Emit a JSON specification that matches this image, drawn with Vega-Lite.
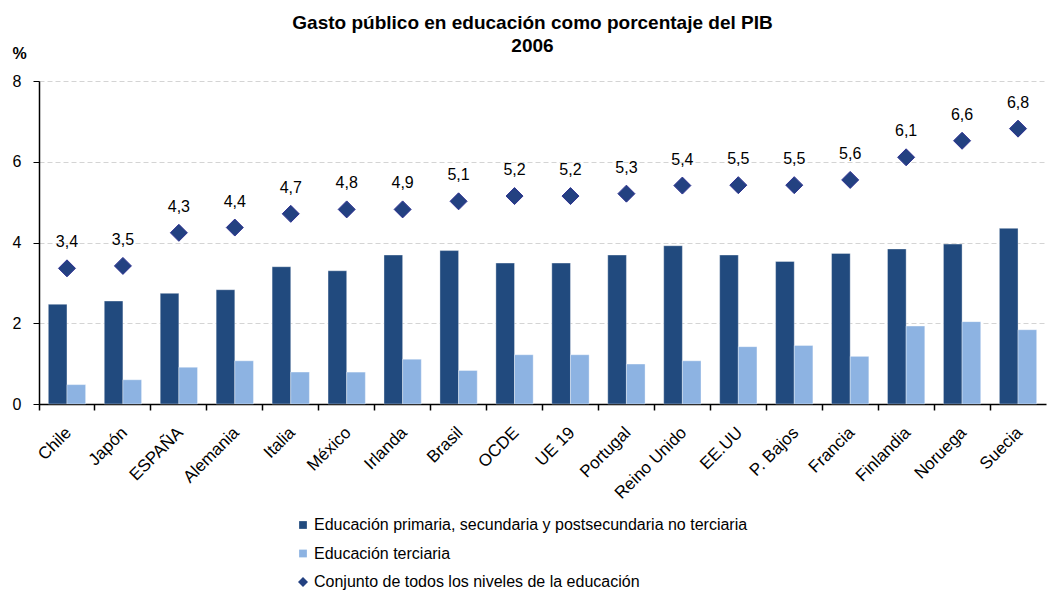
{
  "$schema": "https://vega.github.io/schema/vega-lite/v6.json",
  "width": 1007,
  "height": 323,
  "autosize": {"type": "none"},
  "padding": {"left": 39, "top": 81, "right": 2, "bottom": 190},
  "background": "white",
  "title": {
    "text": ["Gasto público en educación  como porcentaje  del PIB", "2006"],
    "anchor": "middle",
    "frame": "group",
    "font": "Liberation Sans",
    "fontSize": 19,
    "fontWeight": "bold",
    "color": "black",
    "lineHeight": 23,
    "dx": -10,
    "offset": -11
  },
  "config": {
    "view": {"stroke": null},
    "font": "Liberation Sans"
  },
  "data": {
    "values": [
      {"pais": "Chile", "serie": "Educación primaria, secundaria y postsecundaria no terciaria", "valor": 2.47, "etiqueta": ""},
      {"pais": "Chile", "serie": "Educación terciaria", "valor": 0.48, "etiqueta": ""},
      {"pais": "Chile", "serie": "Conjunto de todos los niveles de la educación", "valor": 3.36, "etiqueta": "3,4"},
      {"pais": "Japón", "serie": "Educación primaria, secundaria y postsecundaria no terciaria", "valor": 2.55, "etiqueta": ""},
      {"pais": "Japón", "serie": "Educación terciaria", "valor": 0.6, "etiqueta": ""},
      {"pais": "Japón", "serie": "Conjunto de todos los niveles de la educación", "valor": 3.42, "etiqueta": "3,5"},
      {"pais": "ESPAÑA", "serie": "Educación primaria, secundaria y postsecundaria no terciaria", "valor": 2.74, "etiqueta": ""},
      {"pais": "ESPAÑA", "serie": "Educación terciaria", "valor": 0.91, "etiqueta": ""},
      {"pais": "ESPAÑA", "serie": "Conjunto de todos los niveles de la educación", "valor": 4.24, "etiqueta": "4,3"},
      {"pais": "Alemania", "serie": "Educación primaria, secundaria y postsecundaria no terciaria", "valor": 2.83, "etiqueta": ""},
      {"pais": "Alemania", "serie": "Educación terciaria", "valor": 1.07, "etiqueta": ""},
      {"pais": "Alemania", "serie": "Conjunto de todos los niveles de la educación", "valor": 4.37, "etiqueta": "4,4"},
      {"pais": "Italia", "serie": "Educación primaria, secundaria y postsecundaria no terciaria", "valor": 3.4, "etiqueta": ""},
      {"pais": "Italia", "serie": "Educación terciaria", "valor": 0.79, "etiqueta": ""},
      {"pais": "Italia", "serie": "Conjunto de todos los niveles de la educación", "valor": 4.71, "etiqueta": "4,7"},
      {"pais": "México", "serie": "Educación primaria, secundaria y postsecundaria no terciaria", "valor": 3.3, "etiqueta": ""},
      {"pais": "México", "serie": "Educación terciaria", "valor": 0.79, "etiqueta": ""},
      {"pais": "México", "serie": "Conjunto de todos los niveles de la educación", "valor": 4.82, "etiqueta": "4,8"},
      {"pais": "Irlanda", "serie": "Educación primaria, secundaria y postsecundaria no terciaria", "valor": 3.69, "etiqueta": ""},
      {"pais": "Irlanda", "serie": "Educación terciaria", "valor": 1.11, "etiqueta": ""},
      {"pais": "Irlanda", "serie": "Conjunto de todos los niveles de la educación", "valor": 4.82, "etiqueta": "4,9"},
      {"pais": "Brasil", "serie": "Educación primaria, secundaria y postsecundaria no terciaria", "valor": 3.8, "etiqueta": ""},
      {"pais": "Brasil", "serie": "Educación terciaria", "valor": 0.83, "etiqueta": ""},
      {"pais": "Brasil", "serie": "Conjunto de todos los niveles de la educación", "valor": 5.02, "etiqueta": "5,1"},
      {"pais": "OCDE", "serie": "Educación primaria, secundaria y postsecundaria no terciaria", "valor": 3.49, "etiqueta": ""},
      {"pais": "OCDE", "serie": "Educación terciaria", "valor": 1.22, "etiqueta": ""},
      {"pais": "OCDE", "serie": "Conjunto de todos los niveles de la educación", "valor": 5.15, "etiqueta": "5,2"},
      {"pais": "UE 19", "serie": "Educación primaria, secundaria y postsecundaria no terciaria", "valor": 3.49, "etiqueta": ""},
      {"pais": "UE 19", "serie": "Educación terciaria", "valor": 1.22, "etiqueta": ""},
      {"pais": "UE 19", "serie": "Conjunto de todos los niveles de la educación", "valor": 5.15, "etiqueta": "5,2"},
      {"pais": "Portugal", "serie": "Educación primaria, secundaria y postsecundaria no terciaria", "valor": 3.69, "etiqueta": ""},
      {"pais": "Portugal", "serie": "Educación terciaria", "valor": 0.99, "etiqueta": ""},
      {"pais": "Portugal", "serie": "Conjunto de todos los niveles de la educación", "valor": 5.21, "etiqueta": "5,3"},
      {"pais": "Reino Unido", "serie": "Educación primaria, secundaria y postsecundaria no terciaria", "valor": 3.92, "etiqueta": ""},
      {"pais": "Reino Unido", "serie": "Educación terciaria", "valor": 1.07, "etiqueta": ""},
      {"pais": "Reino Unido", "serie": "Conjunto de todos los niveles de la educación", "valor": 5.41, "etiqueta": "5,4"},
      {"pais": "EE.UU", "serie": "Educación primaria, secundaria y postsecundaria no terciaria", "valor": 3.69, "etiqueta": ""},
      {"pais": "EE.UU", "serie": "Educación terciaria", "valor": 1.42, "etiqueta": ""},
      {"pais": "EE.UU", "serie": "Conjunto de todos los niveles de la educación", "valor": 5.42, "etiqueta": "5,5"},
      {"pais": "P. Bajos", "serie": "Educación primaria, secundaria y postsecundaria no terciaria", "valor": 3.53, "etiqueta": ""},
      {"pais": "P. Bajos", "serie": "Educación terciaria", "valor": 1.45, "etiqueta": ""},
      {"pais": "P. Bajos", "serie": "Conjunto de todos los niveles de la educación", "valor": 5.42, "etiqueta": "5,5"},
      {"pais": "Francia", "serie": "Educación primaria, secundaria y postsecundaria no terciaria", "valor": 3.73, "etiqueta": ""},
      {"pais": "Francia", "serie": "Educación terciaria", "valor": 1.18, "etiqueta": ""},
      {"pais": "Francia", "serie": "Conjunto de todos los niveles de la educación", "valor": 5.55, "etiqueta": "5,6"},
      {"pais": "Finlandia", "serie": "Educación primaria, secundaria y postsecundaria no terciaria", "valor": 3.84, "etiqueta": ""},
      {"pais": "Finlandia", "serie": "Educación terciaria", "valor": 1.93, "etiqueta": ""},
      {"pais": "Finlandia", "serie": "Conjunto de todos los niveles de la educación", "valor": 6.11, "etiqueta": "6,1"},
      {"pais": "Noruega", "serie": "Educación primaria, secundaria y postsecundaria no terciaria", "valor": 3.96, "etiqueta": ""},
      {"pais": "Noruega", "serie": "Educación terciaria", "valor": 2.04, "etiqueta": ""},
      {"pais": "Noruega", "serie": "Conjunto de todos los niveles de la educación", "valor": 6.52, "etiqueta": "6,6"},
      {"pais": "Suecia", "serie": "Educación primaria, secundaria y postsecundaria no terciaria", "valor": 4.35, "etiqueta": ""},
      {"pais": "Suecia", "serie": "Educación terciaria", "valor": 1.84, "etiqueta": ""},
      {"pais": "Suecia", "serie": "Conjunto de todos los niveles de la educación", "valor": 6.82, "etiqueta": "6,8"}
    ]
  },
  "resolve": {"axis": {"x": "independent"}},
  "layer": [
    {
      "transform": [{"filter": "datum.serie != 'Conjunto de todos los niveles de la educación'"}],
      "mark": {"type": "bar", "stroke": "white", "strokeWidth": 0.6, "strokeOpacity": 0.6},
      "encoding": {
        "x": {
          "field": "pais", "type": "nominal", "sort": null,
          "scale": {"paddingInner": 0, "paddingOuter": 0},
          "axis": {
            "orient": "bottom", "title": null, "labelAngle": -45, "labelAlign": "right",
            "labelBaseline": "top", "ticks": false, "domainColor": "black", "domainWidth": 1.5,
            "labelFontSize": 17, "labelColor": "black", "labelPadding": 20, "labelOffset": -4, "grid": false
          }
        },
        "xOffset": {
          "field": "serie", "type": "nominal",
          "scale": {
            "domain": ["Educación primaria, secundaria y postsecundaria no terciaria", "Educación terciaria"],
            "paddingInner": 0, "paddingOuter": 0.5
          }
        },
        "y": {
          "field": "valor", "type": "quantitative",
          "scale": {"domain": [0, 8], "nice": false},
          "axis": {
            "values": [0, 2, 4, 6, 8], "title": "%", "titleAngle": 0, "titleX": -27, "titleY": -23,
            "titleAlign": "left", "titleBaseline": "alphabetic", "titleFontSize": 16, "titleFontWeight": "bold",
            "titleColor": "black", "labelFontSize": 16, "labelColor": "black", "labelPadding": 12,
            "tickSize": 6, "tickColor": "black", "domainColor": "black", "domainWidth": 1.5,
            "grid": true, "gridColor": "#D4D4D4", "gridDash": [5, 3], "gridWidth": 1
          }
        },
        "color": {
          "field": "serie", "type": "nominal",
          "scale": {
            "domain": ["Educación primaria, secundaria y postsecundaria no terciaria", "Educación terciaria", "Conjunto de todos los niveles de la educación"],
            "range": ["#214A7E", "#8DB3E2", "#234181"]
          },
          "legend": {
            "orient": "none", "legendX": 256, "legendY": 436, "title": null, "direction": "vertical",
            "labelFontSize": 16, "labelColor": "black", "labelOffset": 3, "rowPadding": 12.5, "labelLimit": 800,
            "symbolStrokeWidth": 0, "symbolOpacity": 1,
            "symbolType": {"expr": "datum.value == 'Conjunto de todos los niveles de la educación' ? 'diamond' : 'square'"},
            "symbolSize": {"expr": "datum.value == 'Conjunto de todos los niveles de la educación' ? 100 : 60"}
          }
        }
      }
    },
    {
      "transform": [{"filter": "datum.serie == 'Conjunto de todos los niveles de la educación'"}],
      "mark": {"type": "point", "shape": "diamond", "filled": true, "opacity": 1, "size": 289, "stroke": "#2E3192", "strokeWidth": 1},
      "encoding": {
        "x": {
          "field": "pais", "type": "nominal", "sort": null,
          "axis": {
            "orient": "bottom", "title": null, "labels": false, "ticks": true, "tickSize": 6,
            "tickColor": "black", "tickWidth": 1.5, "bandPosition": 0, "domain": false, "grid": false
          }
        },
        "y": {"field": "valor", "type": "quantitative"},
        "color": {"field": "serie", "type": "nominal"}
      }
    },
    {
      "transform": [{"filter": "datum.serie == 'Conjunto de todos los niveles de la educación'"}],
      "mark": {"type": "text", "fontSize": 16, "color": "black", "baseline": "alphabetic", "dy": -21},
      "encoding": {
        "x": {"field": "pais", "type": "nominal", "sort": null, "axis": null},
        "y": {"field": "valor", "type": "quantitative"},
        "text": {"field": "etiqueta"}
      }
    }
  ]
}
